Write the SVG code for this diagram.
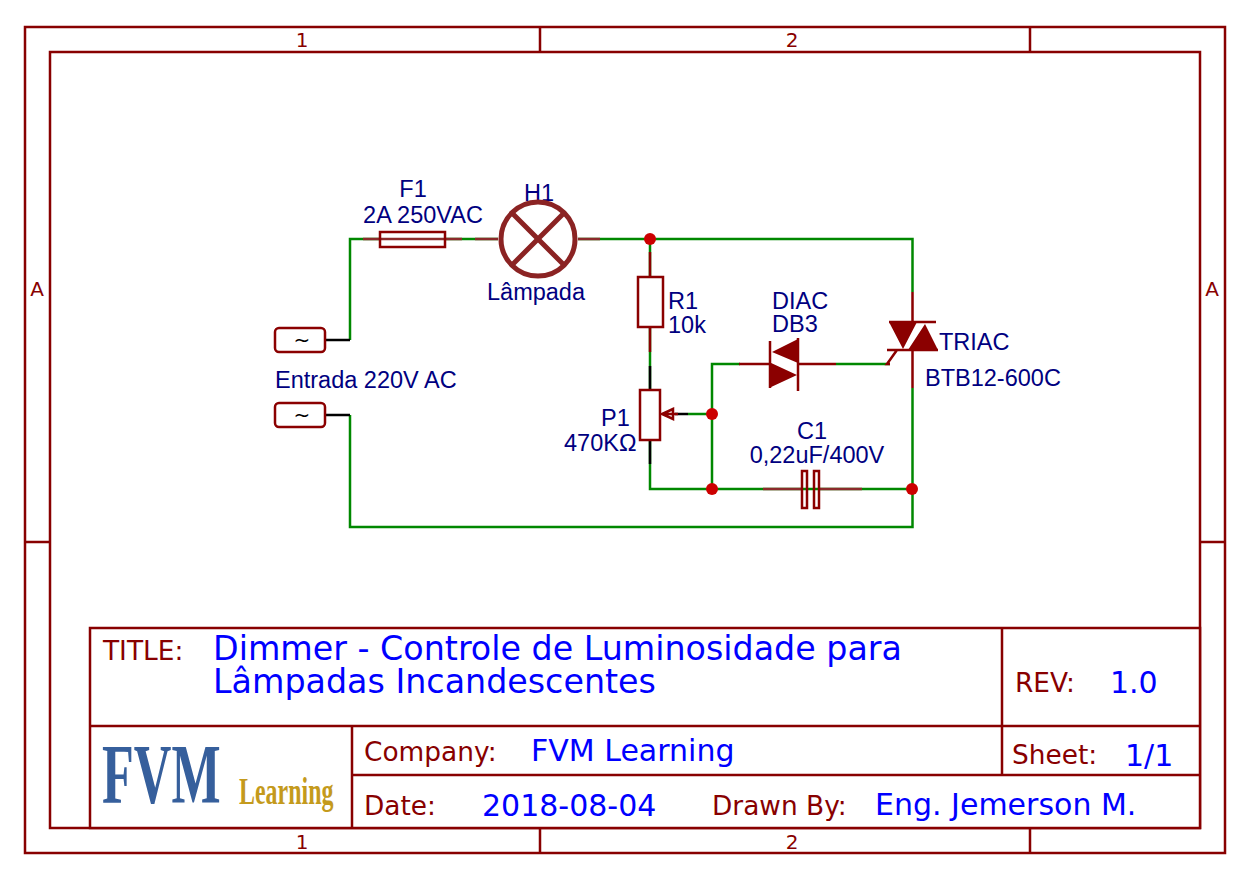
<svg xmlns="http://www.w3.org/2000/svg" width="1250" height="879" viewBox="0 0 1250 879">
<style>
.f{fill:none;stroke:#880000;stroke-width:2.5}
.s{fill:none;stroke:#8b0000;stroke-width:2.5}
.p{fill:none;stroke:#8b2a2a;stroke-width:2.5}
.b{fill:#fff;stroke:#8b0000;stroke-width:2.5}
.w{fill:none;stroke:#008800;stroke-width:2.5}
.k{fill:none;stroke:#000;stroke-width:2.5}
.d{fill:#cc0000}
.t{font-family:"DejaVu Sans",sans-serif;fill:#880000}
.v{font-family:"DejaVu Sans",sans-serif;fill:#0000ff}
.l{font-family:"Liberation Sans",Arial,sans-serif;font-size:23.5px;fill:#000080}
</style>
<rect width="1250" height="879" fill="#fff"/>
<g id="frame">
<rect class="f" x="25" y="27" width="1200" height="826"/>
<rect class="f" x="50" y="52" width="1150" height="776"/>
<path class="f" d="M540 27V52M1030 27V52M540 828V853M1030 828V853M25 542H50M1200 542H1225"/>
<g class="t" font-size="20" text-anchor="middle">
<text x="302" y="47">1</text><text x="792" y="47">2</text>
<text x="302" y="849">1</text><text x="792" y="849">2</text>
<text x="37" y="296">A</text><text x="1212" y="296">A</text>
</g>
</g>
<g id="title-block">
<rect class="f" x="90" y="628" width="1110" height="200" style="fill:#fff"/>
<path class="f" d="M90 726H1200M352 726V828M352 775H1200M1002 628V775"/>
<g class="t" font-size="26.4">
<text x="103" y="660">TITLE:</text>
<text x="1015" y="692">REV:</text>
<text x="364" y="761">Company:</text>
<text x="1012" y="764">Sheet:</text>
<text x="364" y="815">Date:</text>
<text x="712" y="815">Drawn By:</text>
</g>
<g class="v" font-size="33.3">
<text x="213" y="660">Dimmer - Controle de Luminosidade para</text>
<text x="213" y="693">Lâmpadas Incandescentes</text>
</g>
<g class="v" font-size="30">
<text x="1110" y="693">1.0</text>
<text x="531" y="761">FVM Learning</text>
<text x="1125" y="766">1/1</text>
<text x="482" y="816">2018-08-04</text>
<text x="875" y="815">Eng. Jemerson M.</text>
</g>
<text id="logo-fvm" transform="translate(102 803) scale(.62 1)" font-family="Liberation Serif,serif" font-size="84" font-weight="bold" fill="#365f9c">FVM</text>
<text id="logo-learning" transform="translate(239 804) scale(.63 1)" font-family="Liberation Serif,serif" font-size="38" font-weight="bold" fill="#c49a1c">Learning</text>
</g>
<g id="connectors">
<path class="w" d="M350 340V239H380M445 239H498M578 239H912.500V292M650 239V277M650 327V390M650 440V489H912.500M712 414V364H740M688 414H712M712 414V489M836 364H890M912.500 388V527H350V415M763 489H860"/>
<path class="k" d="M325 340H350M325 415H350M650 366V390M650 440V464M675 414H688"/>
</g>
<g id="J1"><rect class="b" x="275" y="328" width="50" height="24" rx="4"/><text x="302" y="347" font-family="DejaVu Sans,sans-serif" font-size="20" text-anchor="middle" fill="#000">~</text></g>
<g id="J2"><rect class="b" x="275" y="403" width="50" height="24" rx="4"/><text x="302" y="422" font-family="DejaVu Sans,sans-serif" font-size="20" text-anchor="middle" fill="#000">~</text></g>
<text class="l" x="275" y="388">Entrada 220V AC</text>
<g id="F1">
<path class="p" d="M363 239H462"/>
<rect class="s" x="380" y="232" width="65" height="15"/>
<text class="l" x="413" y="197" text-anchor="middle">F1</text>
<text class="l" x="423" y="223" text-anchor="middle">2A 250VAC</text>
</g>
<g id="H1">
<text class="l" x="539" y="201" text-anchor="middle">H1</text>
<path class="p" d="M475 239H498M578 239H600"/>
<circle cx="538" cy="239" r="37" fill="none" stroke="#8b2323" stroke-width="5"/>
<path d="M512 213L564 265M564 213L512 265" fill="none" stroke="#8b2323" stroke-width="5"/>
<text class="l" x="536" y="300" text-anchor="middle">Lâmpada</text>
</g>
<g id="R1">
<path class="s" d="M650 252V277M650 327V352"/>
<rect class="b" x="638" y="277" width="25" height="50"/>
<text class="l" x="668" y="309">R1</text>
<text class="l" x="668" y="333">10k</text>
</g>
<g id="P1">
<rect class="b" x="640" y="390" width="20" height="50"/>
<path class="s" d="M678 414H662M673 409L662 414L673 419Z"/>
<text class="l" x="601" y="426">P1</text>
<text class="l" x="564" y="451">470KΩ</text>
</g>
<g id="D1">
<path class="s" d="M739 364H770M798 364H836M770 341V388M798 338V391"/>
<path d="M772 352L798 339V363ZM769 362L797 375L769 388Z" fill="#8b0000"/>
<text class="l" x="772" y="309">DIAC</text>
<text class="l" x="772" y="332">DB3</text>
</g>
<g id="Q1">
<path class="s" d="M912.500 292V322M912.500 350V388M889 322H936M887 350H938M890 364H887L897 350"/>
<path d="M889 322H917L903 349ZM925 324L938 350H908Z" fill="#8b0000"/>
<text class="l" x="939" y="350">TRIAC</text>
<text class="l" x="925" y="386">BTB12-600C</text>
</g>
<g id="C1">
<path class="p" d="M763 489H802M820 489H862"/>
<rect class="s" x="802" y="471" width="5" height="37"/>
<rect class="s" x="814" y="471" width="5" height="37"/>
<text class="l" x="812" y="439" text-anchor="middle">C1</text>
<text class="l" x="817" y="463" text-anchor="middle">0,22uF/400V</text>
</g>
<g id="junctions">
<circle class="d" cx="650" cy="239" r="6"/>
<circle class="d" cx="712" cy="414" r="6"/>
<circle class="d" cx="712" cy="489" r="6"/>
<circle class="d" cx="912" cy="489" r="6"/>
</g>
</svg>
